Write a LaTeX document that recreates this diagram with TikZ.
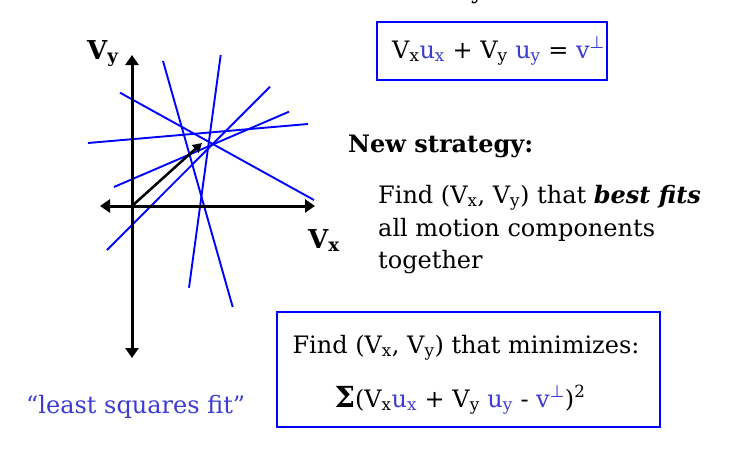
\documentclass[tikz,border=0pt]{standalone}
\usepackage{fontspec}
\setmainfont{DejaVu Serif}
\newfontfamily\symfont{DejaVu Sans}
\usetikzlibrary{arrows.meta}
\definecolor{lineblue}{RGB}{0,0,255}
\definecolor{txtblue}{RGB}{60,60,210}
\newcommand{\mysub}[1]{\raisebox{-0.3ex}{\fontsize{17}{17}\selectfont #1}}
\tikzset{
  txt/.style={inner sep=0pt, font=\fontsize{24}{32}\selectfont},
  lbl/.style={inner sep=0pt, font=\fontsize{26}{32}\selectfont\bfseries},
  axis/.style={line width=3pt, {Triangle[width=13pt,length=10pt]}-{Triangle[width=13pt,length=10pt]}},
  vec/.style={line width=2.5pt, -{Triangle[width=10pt,length=9pt]}},
  cline/.style={lineblue, line width=1.9pt},
  bluebox/.style={draw=lineblue, line width=1.7pt, inner sep=0pt}
}
\begin{document}
\begin{tikzpicture}[x=1pt,y=-1pt]
\useasboundingbox (0,0) rectangle (740,474);
\begin{scope}
\clip (0,0) rectangle (740,474);
\node[txt, anchor=base] (cut) at (478,-2) {y};
\end{scope}
% axes
\coordinate (ytop) at (132,55);
\coordinate (ybot) at (132,358);
\coordinate (xl) at (100,206);
\coordinate (xr) at (315,206);
\coordinate (o) at (132,206);
\coordinate (v) at (202,143);
% constraint lines
\coordinate (a1) at (120,92.7);  \coordinate (b1) at (314,200);
\coordinate (a2) at (88,143);    \coordinate (b2) at (308,124);
\coordinate (a3) at (163,61);    \coordinate (b3) at (232.7,307);
\coordinate (a4) at (220.7,55);  \coordinate (b4) at (189,287.7);
\coordinate (a5) at (270,86.7);  \coordinate (b5) at (107,250);
\coordinate (a6) at (289,111.7); \coordinate (b6) at (114,187);
\foreach \i in {1,...,6} {\draw[cline] (a\i) -- (b\i);}
\draw[axis] (ybot) -- (ytop);
\draw[axis] (xl) -- (xr);
\draw[vec] (o) -- (v);
\node[lbl, anchor=base west] (vy) at (87,59) {V\textsubscript{y}};
\node[lbl, anchor=base west] (vx) at (308,248) {V\textsubscript{x}};
% top box
\node[bluebox, minimum width=230pt, minimum height=58pt] (top) at (491.7,51.2) {};
\node[txt, anchor=base west] (topeq) at (392,58) {V\textsubscript{x}\textcolor{txtblue}{u\textsubscript{x}} + V\textsubscript{y} \textcolor{txtblue}{u\textsubscript{y}} = \textcolor{txtblue}{v\textsuperscript{\symfont ⊥}}};
% strategy
\node[txt, anchor=base west] (ns) at (348,152) {\bfseries New strategy:};
\node[txt, anchor=base west] (l1) at (378,203) {Find (V\textsubscript{x}, V\textsubscript{y}) that \textbf{\textit{best fits}}};
\node[txt, anchor=base west] (l2) at (378,236) {all motion components};
\node[txt, anchor=base west] (l3) at (378,268) {together};
% bottom box
\node[bluebox, minimum width=383pt, minimum height=115pt] (bot) at (468.5,369.5) {};
\node[txt, anchor=base] (m1) at (466,353) {Find (V\textsubscript{x}, V\textsubscript{y}) that minimizes:};
\node[txt, anchor=base] (m2) at (460,407) {{\fontsize{29}{32}\selectfont\bfseries Σ}(V\textsubscript{x}\textcolor{txtblue}{u\textsubscript{x}} + V\textsubscript{y} \textcolor{txtblue}{u\textsubscript{y}} - \textcolor{txtblue}{v\textsuperscript{\symfont ⊥}})\textsuperscript{2}};
\node[txt, anchor=base west, text=txtblue] (lsq) at (26,413) {“least squares fit”};
\end{tikzpicture}
\end{document}
